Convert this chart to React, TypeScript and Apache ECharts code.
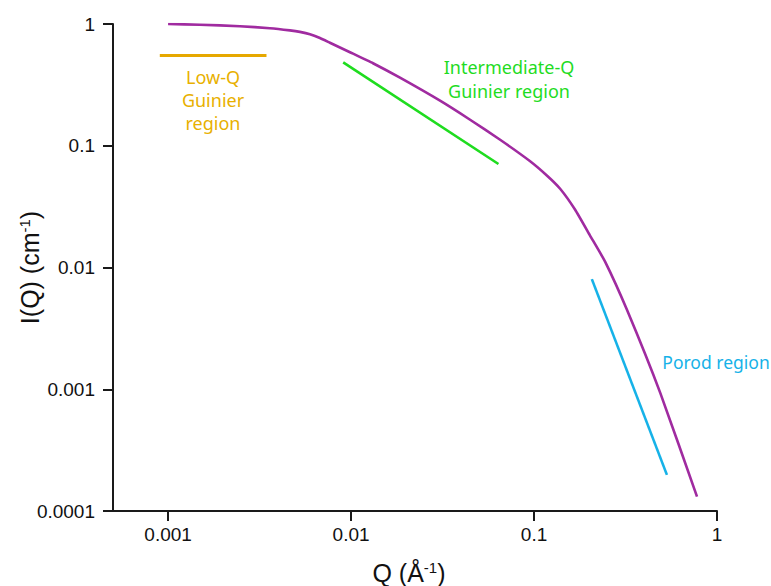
import React, { useEffect, useRef } from 'react';
import * as echarts from 'echarts';

// Scattering profile (purple curve)
const qProfile = [0.001, 0.00149, 0.002468, 0.003599, 0.004632, 0.005254, 0.00596, 0.006759, 0.007665, 0.009863, 0.01318, 0.01851, 0.03064, 0.04472, 0.06527, 0.09522, 0.1179, 0.1389, 0.1678, 0.2027, 0.2449, 0.322, 0.4896, 0.7775];
const iProfile = [1.0, 0.9868, 0.9592, 0.9236, 0.8859, 0.8612, 0.8245, 0.7673, 0.7018, 0.5866, 0.4762, 0.362, 0.2343, 0.1635, 0.112, 0.07458, 0.0567, 0.04432, 0.02979, 0.01822, 0.01113, 0.004493, 0.000934, 0.0001313];

// Guide lines
const lowQLineQ = [0.000901, 0.00345];
const lowQLineI = [0.552, 0.552];
const midQLineQ = [0.00906, 0.0639];
const midQLineI = [0.4835, 0.0708];
const porodLineQ = [0.207, 0.5325];
const porodLineI = [0.00803, 0.000198];

// Axes
const xMin = 0.0005;
const xMax = 1;
const yMin = 0.0001;
const yMax = 1;
const xTicks = [0.001, 0.01, 0.1, 1];
const xTickLabels = ['0.001', '0.01', '0.1', '1'];
const yTicks = [0.0001, 0.001, 0.01, 0.1, 1];
const yTickLabels = ['0.0001', '0.001', '0.01', '0.1', '1'];

const pairs = (xs: number[], ys: number[]) => xs.map((x, i) => [x, ys[i]]);

const labelFor = (ticks: number[], labels: string[]) => (v: number) => {
  for (let i = 0; i < ticks.length; i++) {
    if (Math.abs(Math.log10(v) - Math.log10(ticks[i])) < 1e-6) return labels[i];
  }
  return '';
};

const AXIS_FONT = '"Liberation Sans", Arial, sans-serif';
const NOTE_FONT = '"Noto Sans", "DejaVu Sans", sans-serif';

export default function App() {
  const ref = useRef<HTMLDivElement>(null);

  useEffect(() => {
    document.body.style.margin = '0';
    if (!ref.current) return;
    const chart = echarts.init(ref.current, undefined, { renderer: 'svg' });
    const axisLineStyle = { color: '#1a1a1a', width: 2 };
    const nameRich = {
      n: { fontFamily: AXIS_FONT, fontSize: 25, color: '#111' },
      s: { fontFamily: AXIS_FONT, fontSize: 15, color: '#111', verticalAlign: 'top' },
    };
    chart.setOption({
      animation: false,
      backgroundColor: '#ffffff',
      grid: { left: 113, top: 24, width: 604, height: 487, containLabel: false, outerBoundsMode: 'none' },
      xAxis: {
        type: 'log',
        logBase: 10,
        min: xMin,
        max: xMax,
        splitLine: { show: false },
        axisLine: { show: true, onZero: false, lineStyle: axisLineStyle },
        axisTick: { show: true, length: 10, lineStyle: axisLineStyle, customValues: xTicks },
        minorTick: { show: false },
        axisLabel: {
          customValues: xTicks,
          formatter: labelFor(xTicks, xTickLabels),
          fontFamily: AXIS_FONT,
          fontSize: 19,
          color: '#111',
          margin: 14,
        },
        name: '{n|Q (Å}{s|-1}{n|)}',
        nameLocation: 'middle',
        nameGap: 49,
        nameMoveOverlap: false,
        nameTextStyle: { fontFamily: AXIS_FONT, fontSize: 25, color: '#111', rich: nameRich, padding: [0, 12, 0, 0] },
      },
      yAxis: {
        type: 'log',
        logBase: 10,
        min: yMin,
        max: yMax,
        splitLine: { show: false },
        axisLine: { show: true, onZero: false, lineStyle: axisLineStyle },
        axisTick: { show: true, length: 10, lineStyle: axisLineStyle, customValues: yTicks },
        minorTick: { show: false },
        axisLabel: {
          customValues: yTicks,
          formatter: labelFor(yTicks, yTickLabels),
          fontFamily: AXIS_FONT,
          fontSize: 19,
          color: '#111',
          margin: 18,
        },
        name: '{n|I(Q) (cm}{s|-1}{n|)}',
        nameLocation: 'middle',
        nameGap: 71,
        nameMoveOverlap: false,
        nameTextStyle: { fontFamily: AXIS_FONT, fontSize: 25, color: '#111', rich: nameRich },
      },
      series: [
        {
          name: 'profile',
          type: 'line',
          data: pairs(qProfile, iProfile),
          showSymbol: false,
          smooth: 0.15,
          lineStyle: { color: '#a02ba0', width: 2.6, join: 'round' },
        },
        {
          name: 'lowQ',
          type: 'line',
          data: pairs(lowQLineQ, lowQLineI),
          showSymbol: false,
          lineStyle: { color: '#e6a800', width: 3 },
        },
        {
          name: 'midQ',
          type: 'line',
          data: pairs(midQLineQ, midQLineI),
          showSymbol: false,
          lineStyle: { color: '#1fdc1f', width: 2.6 },
        },
        {
          name: 'porod',
          type: 'line',
          data: pairs(porodLineQ, porodLineI),
          showSymbol: false,
          lineStyle: { color: '#16b2e8', width: 2.6 },
        },
      ],
      graphic: [
        {
          type: 'text',
          x: 213,
          y: 65,
          style: {
            text: 'Low-Q\nGuinier\nregion',
            fill: '#e8b000',
            fontFamily: NOTE_FONT,
            fontSize: 18,
            lineHeight: 23,
            align: 'center',
            verticalAlign: 'top',
          },
        },
        {
          type: 'text',
          x: 509,
          y: 55,
          style: {
            text: 'Intermediate-Q\nGuinier region',
            fill: '#1fdc1f',
            fontFamily: NOTE_FONT,
            fontSize: 18,
            lineHeight: 24,
            align: 'center',
            verticalAlign: 'top',
          },
        },
        {
          type: 'text',
          x: 716,
          y: 362,
          style: {
            text: 'Porod region',
            fill: '#16b2e8',
            fontFamily: NOTE_FONT,
            fontSize: 17.5,
            align: 'center',
            verticalAlign: 'middle',
          },
        },
      ],
    });
    return () => chart.dispose();
  }, []);

  return <div ref={ref} style={{ width: 771, height: 586 }} />;
}
